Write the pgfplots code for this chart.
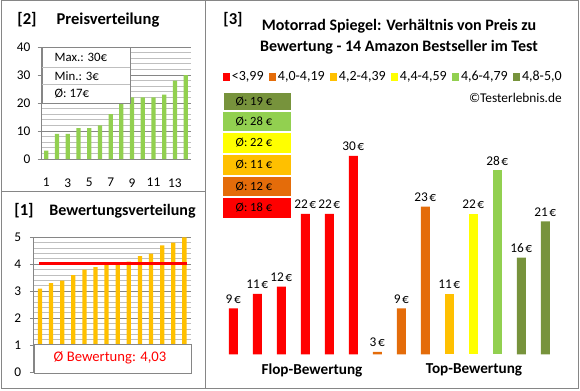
\documentclass[border=0pt]{standalone}
\usepackage{fontspec}
\setmainfont{Carlito}
\usepackage{pgfplots}
\pgfplotsset{compat=1.18}
\definecolor{gmaj}{HTML}{868686}
\definecolor{gmin}{HTML}{BFBFBF}
\definecolor{cred}{HTML}{FF0000}
\definecolor{corange}{HTML}{E46C0A}
\definecolor{camber}{HTML}{FFC000}
\definecolor{cyellow}{HTML}{FFFF00}
\definecolor{clgreen}{HTML}{92D050}
\definecolor{colive}{HTML}{77933C}
\newcommand\fs[1]{\fontsize{#1}{#1}\selectfont}
\begin{document}
\begin{tikzpicture}[x=0.75pt,y=0.75pt]
\path[use as bounding box] (0,0) rectangle (580,390);
\pgfplotsset{/pgf/number format/assume math mode=true}
% ---------------- [2] Preisverteilung
\begin{axis}[at={(30.75pt,173.25pt)}, anchor=south west, scale only axis,
  width=112.5pt, height=84pt,
  xmin=0.5, xmax=14.5, ymin=0, ymax=40,
  ytick={0,10,...,40}, minor y tick num=4,
  ymajorgrids, yminorgrids,
  major grid style={color=gmaj, line width=0.75pt},
  minor grid style={color=gmin, line width=0.75pt},
  xtick={1,3,...,13},
  axis x line*=bottom, axis y line*=left,
  axis line style={color=gmaj, line width=0.75pt, -},
  tick align=outside, major tick length=2.5pt, minor tick length=0pt,
  xtick style={draw=none},
  ytick style={color=gmaj, line width=0.75pt},
  tick label style={font=\fs{10}},
  yticklabel style={xshift=-2pt},
  xticklabel style={yshift=-8.5pt},
]
\addplot[ybar, fill=clgreen, draw=none, bar width=3.2pt] coordinates {
(1,3)(2,9)(3,9)(4,11)(5,11)(6,12)(7,16)(8,20)(9,22)(10,22)(11,22)(12,23)(13,28)(14,30)};
\end{axis}
% info box
\draw[gmaj, fill=white, line width=0.75pt] (42,287) rectangle (130,342);
\draw[gmin, line width=0.75pt] (42,323) -- (130,323) (42,306) -- (130,306);
\node[anchor=west, font=\fs{9.6}] at (50,332.5) {Max.: 30€};
\node[anchor=west, font=\fs{9.6}] at (50,314) {Min.: 3€};
\node[anchor=west, font=\fs{9.6}] at (50,296) {Ø: 17€};
% ---------------- [1] Bewertungsverteilung
\begin{axis}[at={(24.975pt,13.275pt)}, anchor=south west, scale only axis,
  width=118.3pt, height=101.25pt,
  xmin=0.4, xmax=14.6, ymin=0, ymax=5,
  ytick={0,1,...,5}, minor y tick num=4,
  ymajorgrids, yminorgrids,
  major grid style={color=gmaj, line width=0.75pt},
  minor grid style={color=gmin, line width=0.75pt},
  xtick=\empty,
  axis x line*=bottom, axis y line*=left,
  axis line style={color=gmaj, line width=0.75pt, -},
  tick align=outside, major tick length=2.5pt, minor tick length=0pt,
  ytick style={color=gmaj, line width=0.75pt},
  tick label style={font=\fs{10}},
  yticklabel style={xshift=-3pt},
]
\addplot[ybar, fill=camber, draw=none, bar width=3.2pt] coordinates {
(1,3.1)(2,3.3)(3,3.4)(4,3.6)(5,3.8)(6,3.9)(7,4.0)(8,4.0)(9,4.1)(10,4.3)(11,4.4)(12,4.7)(13,4.8)(14,5.0)};
\addplot[cred, line width=2.3pt] coordinates {(0.95,4.03)(14.2,4.03)};
\end{axis}
\draw[gmaj, fill=white, line width=0.75pt] (34,17) rectangle (191,46);
\node[font=\fs{11}, text=cred] at (110,32) {Ø Bewertung: 4,03};
% ---------------- [3] main chart
\begin{axis}[at={(165.975pt,26.775pt)}, anchor=south west, scale only axis,
  width=252pt, height=159.7pt,
  xmin=0.5, xmax=14.5, ymin=2.68, ymax=32,
  hide axis, clip mode=individual,
  ybar, bar width=6.75pt, bar shift=0pt,
  nodes near coords={\pgfmathprintnumber{\pgfplotspointmeta}\kern0.12em€},
  every node near coord/.append style={font=\fs{10}, text=black, inner sep=1.5pt, yshift=2pt},
  legend columns=6,
  legend style={at={(0.512,1.302)}, anchor=center, draw=none, fill=none,
    font=\fs{10.5}, /tikz/every even column/.append style={column sep=2.5pt},
    nodes={inner xsep=1.5pt}},
  legend image code/.code={\fill[#1] (0pt,-2.8pt) rectangle (5.2pt,2.8pt);},
]
\addplot[fill=cred, draw=none] coordinates {(1,9)(2,11)(3,12)(4,22)(5,22)(6,30)};
\addlegendentry{<3,99}
\addplot[fill=corange, draw=none] coordinates {(7,3)(8,9)(9,23)};
\addlegendentry{4,0-4,19}
\addplot[fill=camber, draw=none] coordinates {(10,11)};
\addlegendentry{4,2-4,39}
\addplot[fill=cyellow, draw=none] coordinates {(11,22)};
\addlegendentry{4,4-4,59}
\addplot[fill=clgreen, draw=none] coordinates {(12,28)};
\addlegendentry{4,6-4,79}
\addplot[fill=colive, draw=none] coordinates {(13,16)(14,21)};
\addlegendentry{4,8-5,0}
\end{axis}
% average boxes
\fill[colive] (223.5,280) rectangle (291,297);
\fill[clgreen] (223,259) rectangle (291,278);
\fill[cyellow] (223,237) rectangle (291,257);
\fill[camber] (223,215) rectangle (291,235);
\fill[corange] (223,194) rectangle (291,213);
\fill[cred] (223,172) rectangle (291,192);
\node[anchor=west, font=\fs{9.4}] at (231,288.5) {Ø: 19 €};
\node[anchor=west, font=\fs{9.4}] at (231,268.5) {Ø: 28 €};
\node[anchor=west, font=\fs{9.4}] at (231,247) {Ø: 22 €};
\node[anchor=west, font=\fs{9.4}] at (231,225) {Ø: 11 €};
\node[anchor=west, font=\fs{9.4}] at (231,203.5) {Ø: 12 €};
\node[anchor=west, font=\fs{9.4}] at (231,182) {Ø: 18 €};
% titles and texts
\node[font=\bfseries\fs{12.5}] at (27,370) {[2]};
\node[font=\bfseries\fs{12.4}] at (108,370) {Preisverteilung};
\node[font=\bfseries\fs{12.5}] at (24,179) {[1]};
\node[font=\bfseries\fs{12}] at (122.5,179) {Bewertungsverteilung};
\node[font=\bfseries\fs{12.5}] at (233,370) {[3]};
\node[font=\bfseries\fs{12}, align=center] at (399,353) {Motorrad Spiegel: Verhältnis von Preis zu\\[4pt]Bewertung - 14 Amazon Bestseller im Test};
\node[anchor=east, inner sep=0pt, font=\fs{10}] at (562,292) {©Testerlebnis.de};
\node[font=\bfseries\fs{11.4}] at (312,20) {Flop-Bewertung};
\node[font=\bfseries\fs{11.4}] at (474,20) {Top-Bewertung};
% borders
\draw[gmaj, line width=0.75pt] (1,199) rectangle (205,389);
\draw[gmaj, line width=0.75pt] (1,2) rectangle (205,199);
\draw[gmaj, line width=0.75pt] (205,2) rectangle (578,389);
\end{tikzpicture}
\end{document}
